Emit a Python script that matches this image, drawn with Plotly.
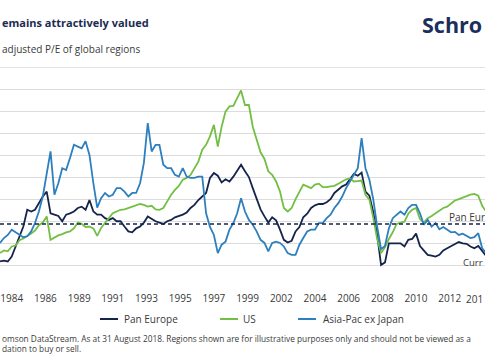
import pandas as pd
import plotly.graph_objects as go

# Quarterly observation dates (first of month, every 3 months) from Jan 1984
dates = pd.date_range("1984-01-01", periods=126, freq="3MS")

pan_europe = [
    11.0, 11.2, 11.0, 12.1, 14.4, 16.8, 18.9, 22.7, 22.3, 22.7, 24.2, 25.7, 26.8, 21.9, 21.6, 21.3,
    20.1, 21.6, 21.9, 22.3, 23.1, 23.4, 22.7, 24.9, 22.3, 21.6,
    21.6, 20.8, 20.4, 20.8, 20.1, 20.1, 18.9, 17.8, 17.6, 18.5, 18.9, 19.8, 21.2, 20.6, 20.1, 19.8,
    19.5, 20.1, 20.4, 21.0, 21.3, 21.6, 22.1, 23.1, 23.8,
    24.9, 25.7, 26.5, 29.9, 31.0, 30.4, 28.9, 29.6, 29.1, 30.2, 31.6, 32.9, 31.4, 30.1, 27.6, 25.0,
    22.8, 21.2, 19.8, 21.0, 20.3, 18.2, 15.9, 15.3,
    15.7, 17.8, 18.8, 21.0, 21.8, 23.1, 23.7, 24.0, 24.0, 24.4, 25.1, 26.5, 27.2, 28.0, 28.4, 29.6,
    30.8, 30.4, 31.1, 26.8, 25.9, 22.1, 17.0, 10.2, 10.8,
    15.1, 15.1, 15.0, 15.1, 14.4, 15.9, 16.1, 17.3, 14.5, 13.6, 12.5, 12.3, 12.1, 12.5, 13.5, 14.0,
    14.5, 15.1, 15.4, 15.1, 15.0, 14.4, 14.0, 14.5, 13.3, 12.3,
]

us = [
    12.9, 13.5, 13.3, 14.4, 14.6, 15.8, 16.2, 16.7, 17.3, 18.0, 19.2, 19.8, 21.2, 15.9, 16.5, 16.9,
    17.2, 17.6, 17.8, 18.5, 19.8, 19.5, 18.8, 18.9, 18.5, 16.8,
    18.6, 19.8, 21.0, 21.9, 22.3, 22.7, 22.8, 23.1, 23.4, 23.6, 24.0, 23.8, 23.4, 23.6, 22.8, 22.7,
    23.1, 24.6, 26.1, 27.2, 28.1, 29.5, 29.9, 30.6, 32.1,
    33.6, 36.3, 37.4, 39.3, 41.9, 37.0, 41.5, 44.9, 46.1, 46.2, 48.0, 49.7, 46.4, 46.4, 41.5, 38.5,
    35.7, 34.2, 31.4, 30.6, 29.1, 26.8, 23.1, 22.3,
    23.1, 25.1, 26.8, 28.4, 28.0, 27.6, 28.4, 28.6, 27.8, 27.8, 28.0, 28.1, 28.6, 29.1, 29.6, 29.8,
    29.1, 29.2, 29.3, 26.1, 25.0, 20.8, 16.1, 12.9, 14.2,
    16.1, 17.6, 19.5, 19.7, 20.0, 21.8, 22.7, 23.1, 20.6, 19.8, 20.8, 21.3, 21.9, 22.5, 23.1, 23.4,
    24.2, 24.8, 25.1, 25.5, 25.8, 26.1, 26.3, 25.9, 23.6, 22.3,
]

asia_pac_ex_japan = [
    15.2, 16.3, 17.0, 18.2, 17.6, 17.0, 16.5, 16.7, 17.8, 19.7, 22.3, 25.7, 31.0, 35.9, 26.1, 28.7,
    32.1, 31.7, 34.4, 37.4, 37.0, 36.6, 38.2, 35.1, 28.7, 23.2,
    25.3, 26.5, 25.7, 26.1, 27.6, 27.6, 26.8, 25.7, 26.5, 26.5, 28.7, 33.3, 42.3, 35.9, 37.4, 37.4,
    32.9, 32.1, 32.1, 30.6, 30.2, 32.1, 30.2, 29.9, 29.9,
    30.2, 30.2, 21.9, 18.8, 17.0, 12.9, 14.8, 15.5, 18.2, 19.7, 21.9, 25.3, 22.3, 20.4, 19.3, 17.8,
    15.9, 15.2, 13.3, 15.2, 15.5, 15.2, 14.4, 12.9,
    12.5, 12.5, 14.8, 16.3, 17.8, 18.2, 18.2, 19.7, 19.7, 20.8, 21.6, 23.1, 24.2, 25.7, 27.6, 29.1,
    30.6, 32.1, 38.9, 32.1, 29.5, 25.0, 18.9, 13.8, 14.5,
    18.5, 20.8, 21.6, 22.3, 21.6, 23.1, 23.8, 23.8, 21.9, 19.3, 20.4, 18.9, 19.7, 18.3, 18.8, 18.2,
    17.6, 17.7, 17.0, 17.3, 16.7, 16.3, 16.5, 17.4, 14.0, 12.9,
]

pan_europe_average = 19.5

tick_dates = ["1984-10-01", "1986-12-01", "1989-02-01", "1991-04-01", "1993-06-01",
              "1995-08-01", "1997-10-01", "1999-12-01", "2002-02-01", "2004-04-01",
              "2006-06-01", "2008-08-01", "2010-10-01", "2012-12-01"]
tick_labels = ["1984", "1986", "1989", "1991", "1993", "1995", "1997", "1999", "2002",
               "2004", "2006", "2008", "2010", "2012"]
last_tick_label = "201"  # visible part of the label cut by the crop edge

series_names = ["Pan Europe", "US", "Asia-Pac ex Japan"]
colors = ["#15244b", "#72bf44", "#2d7fbd"]

W, H = 485, 360
TOP, BOTTOM = 85, 288  # plot area in pixels


def px(x):
    return x / W


def py(y):
    return (BOTTOM - y) / (BOTTOM - TOP)


FONT = "Open Sans"
TXT = "#3a3a3a"
NAVY = "#1c2b52"

fig = go.Figure()
for name, vals, col in zip(series_names, [pan_europe, us, asia_pac_ex_japan], colors):
    fig.add_trace(go.Scatter(x=dates, y=vals, name=name, mode="lines",
                             line=dict(color=col, width=1.8), showlegend=False,
                             hoverinfo="skip"))

fig.update_layout(
    width=W, height=H,
    margin=dict(l=0, r=0, t=TOP, b=H - BOTTOM, pad=0),
    paper_bgcolor="white", plot_bgcolor="white",
    font=dict(family=FONT, size=10, color=TXT),
    xaxis=dict(range=["1983-12-31", "2015-03-08"], tickvals=tick_dates, ticktext=tick_labels,
               showgrid=False, zeroline=False, showline=False, ticks="",
               ticklabelstandoff=3, tickfont=dict(size=10, color=TXT)),
    yaxis=dict(range=[5, 5 + (BOTTOM - TOP) / 4.42], tick0=5, dtick=5, showticklabels=False,
               gridcolor="#dcdcdc", gridwidth=1, zeroline=False, showline=False, ticks=""),
)

shapes = [
    dict(type="line", xref="paper", yref="y", x0=0, x1=1, y0=pan_europe_average,
         y1=pan_europe_average, line=dict(color="#15244b", width=1.5, dash="4px,3px")),
    dict(type="line", xref="paper", yref="paper", x0=0, x1=1, y0=py(67.5), y1=py(67.5),
         line=dict(color="#e3e3e3", width=1)),
]
leg_x = [(100, 118, 123), (220, 238, 242), (298, 316, 322)]
for (x0, x1, tx), name, col in zip(leg_x, series_names, colors):
    shapes.append(dict(type="line", xref="paper", yref="paper", x0=px(x0), x1=px(x1),
                       y0=py(319), y1=py(319), line=dict(color=col, width=2)))
fig.update_layout(shapes=shapes)

ann = []
for (x0, x1, tx), name in zip(leg_x, series_names):
    ann.append(dict(text=name, x=px(tx), y=py(319), xanchor="left", yanchor="middle",
                    font=dict(size=10, color=TXT)))
ann += [
    dict(text="<b>emains attractively valued</b>", x=px(0.5), y=py(22.5),
         xanchor="left", yanchor="middle", font=dict(size=11, color=NAVY)),
    dict(text="adjusted P/E of global regions", x=px(0.5), y=py(49),
         xanchor="left", yanchor="middle", font=dict(size=10, color=TXT)),
    dict(text="<b>Schro</b>", x=px(421), y=py(25), xanchor="left", yanchor="middle",
         font=dict(size=21.5, color="#1b2e5e")),
    dict(text="omson DataStream. As at 31 August 2018. Regions shown are for "
              "illustrative purposes only and should not be viewed as a",
         x=px(0.5), y=py(338.5), xanchor="left", yanchor="middle",
         font=dict(size=8.3, color=TXT)),
    dict(text="dation to buy or sell.", x=px(0.5), y=py(348.5), xanchor="left",
         yanchor="middle", font=dict(size=8.3, color=TXT)),
    dict(text="Pan Eur", x=px(448), y=py(217), xanchor="left", yanchor="middle",
         font=dict(size=10, color=TXT)),
    dict(text="Curr", x=px(484), y=py(262), xanchor="right", yanchor="middle",
         font=dict(size=9.5, color=TXT)),
    dict(text=last_tick_label, x=px(484), y=py(299), xanchor="right", yanchor="middle",
         font=dict(size=10, color=TXT)),
]
for a in ann:
    a.update(xref="paper", yref="paper", showarrow=False, borderpad=0)
fig.update_layout(annotations=ann)

fig.write_html("out.html", config={"displayModeBar": False},
               post_script="document.body.style.margin='0px';")
